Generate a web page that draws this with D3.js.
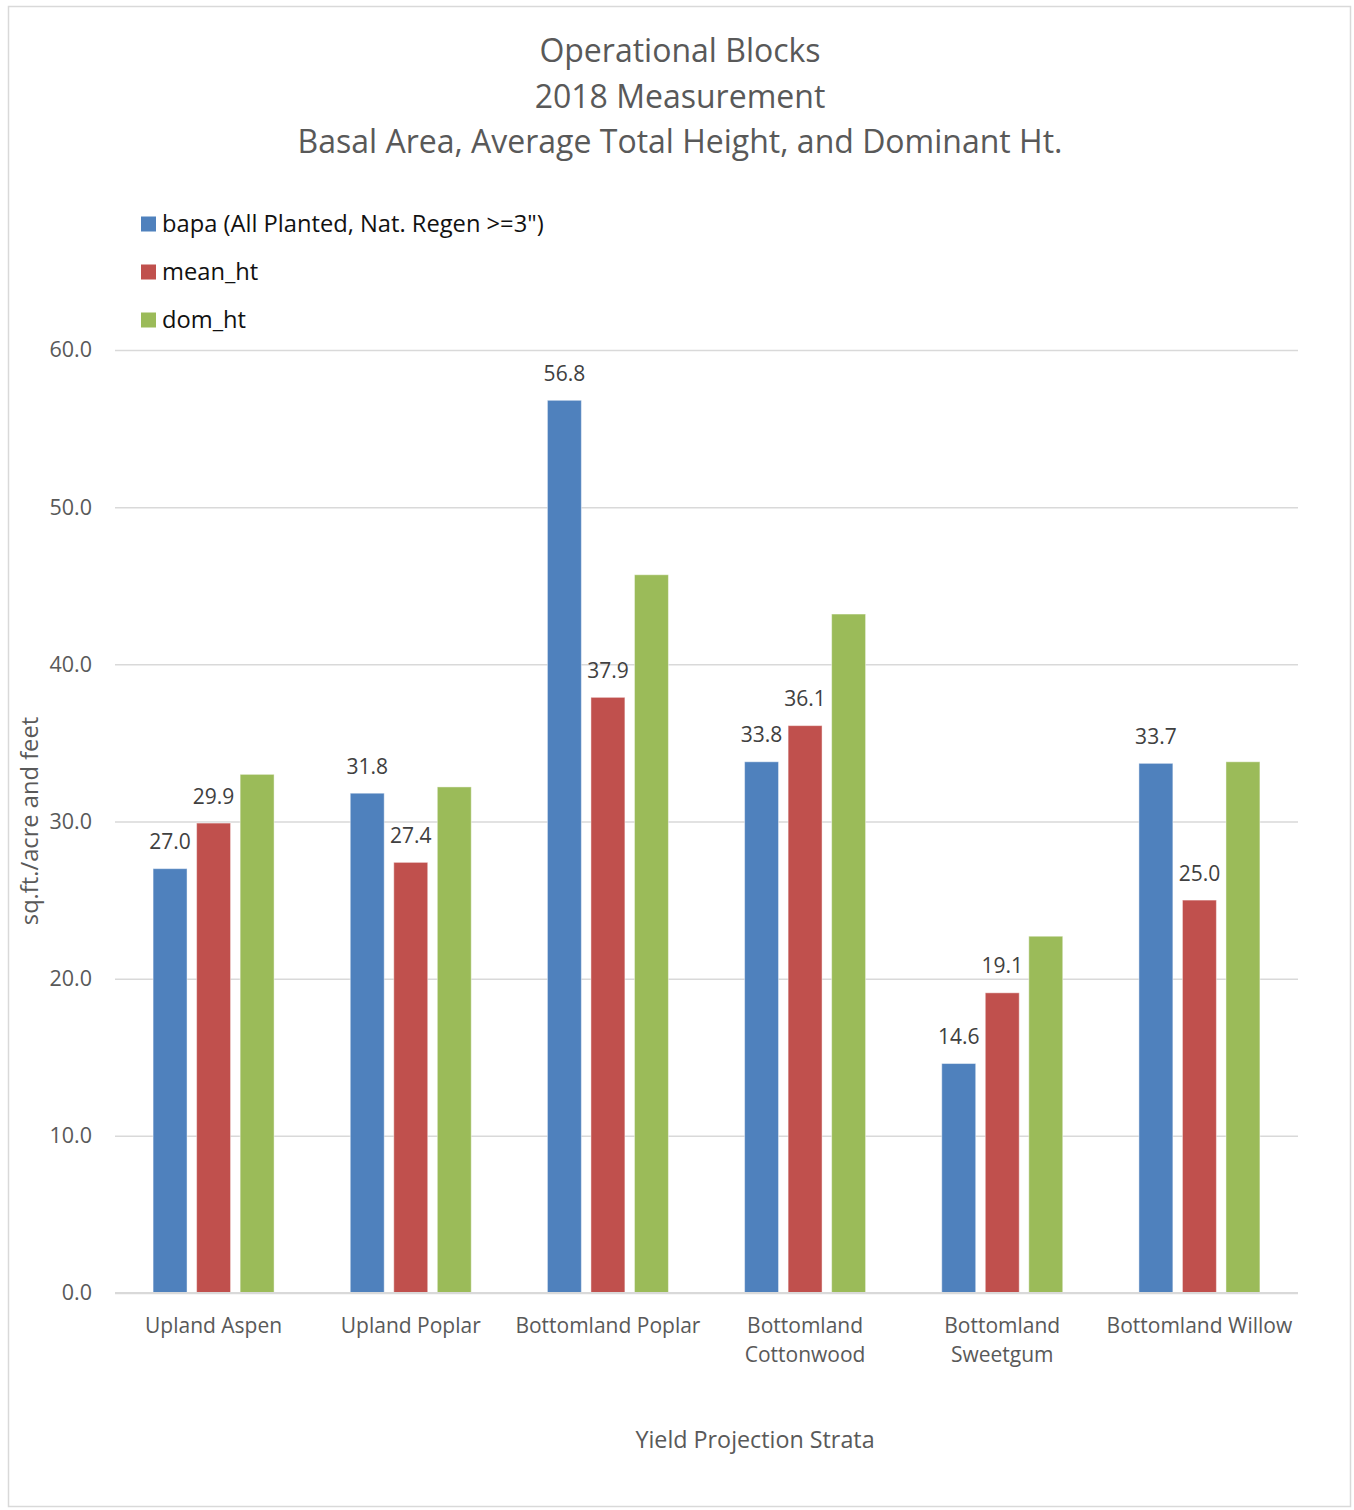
<!DOCTYPE html>
<html>
<head>
<meta charset="utf-8">
<script src="https://cdn.jsdelivr.net/npm/d3@7"></script>
<style>
  body { margin: 0; background: #fff; }
  text { font-family: "Open Sans", "Noto Sans", sans-serif; }
</style>
</head>
<body>
<svg id="chart" width="1354" height="1510"></svg>
<script>
// Strata on the x axis (wrapped lines as shown under the axis)
const categories = ["Upland Aspen", "Upland Poplar", "Bottomland Poplar", "Bottomland Cottonwood", "Bottomland Sweetgum", "Bottomland Willow"];
const categoryLines = [["Upland Aspen"], ["Upland Poplar"], ["Bottomland Poplar"], ["Bottomland", "Cottonwood"], ["Bottomland", "Sweetgum"], ["Bottomland Willow"]];

// Series
const seriesNames = ['bapa (All Planted, Nat. Regen >=3")', "mean_ht", "dom_ht"];
const bapa   = [27.0, 31.8, 56.8, 33.8, 14.6, 33.7];
const meanHt = [29.9, 27.4, 37.9, 36.1, 19.1, 25.0];
const domHt  = [33.0, 32.2, 45.7, 43.2, 22.7, 33.8];
const seriesColors = ["#4F81BD", "#C0504D", "#9BBB59"];
const seriesLabelled = [true, true, false];

const yTicks = [0, 10, 20, 30, 40, 50, 60];
const titleLines = ["Operational Blocks", "2018 Measurement", "Basal Area, Average Total Height, and Dominant Ht."];
const xTitle = "Yield Projection Strata";
const yTitle = "sq.ft./acre and feet";

const seriesValues = [bapa, meanHt, domHt];
const rows = categories.map((c, i) => ({
  category: c,
  values: seriesValues.map((vals, s) => ({ series: s, value: vals[i] }))
}));

const svg = d3.select("#chart");
const plot = { left: 115, right: 1298, top: 350, bottom: 1293 };

// chart frame
svg.append("rect")
  .attr("x", 8.5).attr("y", 6.5).attr("width", 1342).attr("height", 1500)
  .attr("fill", "#fff").attr("stroke", "#d9d9d9").attr("stroke-width", 1.5);

const x = d3.scaleBand().domain(categories).range([plot.left, plot.right]).padding(0);
const groupHalf = 60.5;
const xInner = d3.scaleBand().domain(d3.range(seriesNames.length))
  .range([-groupHalf, groupHalf]).paddingInner(0.22).paddingOuter(0);
const y = d3.scaleLinear().domain([0, 60]).range([plot.bottom, plot.top]);

// title
svg.append("g").selectAll("text").data(titleLines).join("text")
  .attr("x", 680).attr("y", (d, i) => 62 + i * 45.5)
  .attr("text-anchor", "middle")
  .attr("font-size", 32).attr("fill", "#595959")
  .text(d => d);

// legend
const legend = svg.append("g").selectAll("g").data(seriesNames).join("g")
  .attr("transform", (d, i) => `translate(141, ${224 + i * 48})`);
legend.append("rect").attr("x", 0).attr("y", -7.5).attr("width", 15).attr("height", 15)
  .attr("fill", (d, i) => seriesColors[i]);
legend.append("text").attr("x", 21).attr("y", 0).attr("dy", "0.35em")
  .attr("font-size", 23.7).attr("fill", "#111").text(d => d);

// gridlines + y tick labels
const yAxis = d3.axisLeft(y).tickValues(yTicks).tickFormat(d3.format(".1f"))
  .tickSize(-(plot.right - plot.left)).tickPadding(23);
const gy = svg.append("g").attr("transform", `translate(${plot.left},0)`).call(yAxis);
gy.select(".domain").remove();
gy.selectAll(".tick line").attr("stroke", "#d9d9d9").attr("stroke-width", 1.5);
gy.selectAll(".tick text").attr("font-size", 21.5).attr("fill", "#595959")
  .attr("font-family", '"Open Sans", sans-serif');

// bars
const groups = svg.append("g").selectAll("g").data(rows).join("g")
  .attr("transform", d => `translate(${x(d.category) + x.bandwidth() / 2},0)`);
groups.selectAll("rect").data(d => d.values).join("rect")
  .attr("x", d => xInner(d.series))
  .attr("width", xInner.bandwidth())
  .attr("y", d => y(d.value))
  .attr("height", d => y(0) - y(d.value))
  .attr("fill", d => seriesColors[d.series])
  .attr("stroke", "rgba(255,255,255,0.45)").attr("stroke-width", 1);

// data labels
groups.selectAll("text.val").data(d => d.values.filter(v => seriesLabelled[v.series])).join("text")
  .attr("class", "val")
  .attr("x", d => xInner(d.series) + xInner.bandwidth() / 2)
  .attr("y", d => y(d.value) - 19.5)
  .attr("text-anchor", "middle")
  .attr("font-size", 21).attr("fill", "#404040")
  .text(d => d3.format(".1f")(d.value));

// x axis line
svg.append("line")
  .attr("x1", plot.left).attr("x2", plot.right)
  .attr("y1", y(0)).attr("y2", y(0))
  .attr("stroke", "#d9d9d9").attr("stroke-width", 2);

// category labels
const cat = svg.append("g").selectAll("text").data(categories).join("text")
  .attr("x", d => x(d) + x.bandwidth() / 2)
  .attr("y", 1333)
  .attr("text-anchor", "middle")
  .attr("font-size", 21).attr("fill", "#595959");
cat.selectAll("tspan").data((d, i) => categoryLines[i]).join("tspan")
  .attr("x", function () { return this.parentNode.getAttribute("x"); })
  .attr("dy", (d, i) => i === 0 ? 0 : 29)
  .text(d => d);

// axis titles
svg.append("text").attr("x", 755).attr("y", 1448).attr("text-anchor", "middle")
  .attr("font-size", 23.3).attr("fill", "#595959").text(xTitle);
svg.append("text").attr("transform", "translate(38,821) rotate(-90)")
  .attr("text-anchor", "middle").attr("font-size", 23.7).attr("fill", "#595959").text(yTitle);
</script>
</body>
</html>
